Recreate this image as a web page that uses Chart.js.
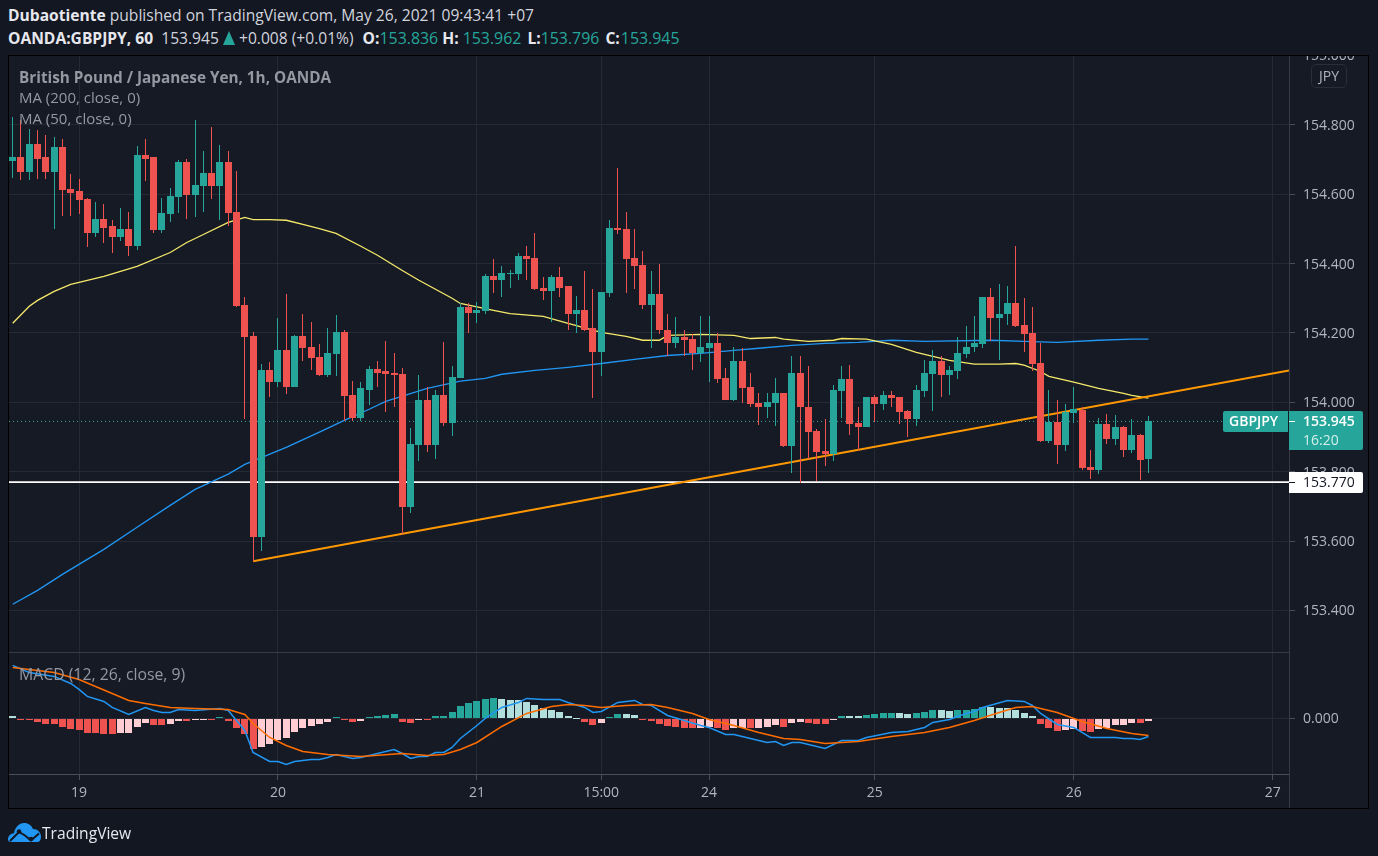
<!DOCTYPE html>
<html><head><meta charset="utf-8"><title>GBPJPY</title>
<script src="https://cdn.jsdelivr.net/npm/chart.js@4/dist/chart.umd.min.js"></script>
<style>
html,body{margin:0;padding:0;background:#131722;width:1378px;height:856px;overflow:hidden}
body{font-family:"Open Sans",sans-serif;position:relative}
canvas{position:absolute;left:0;top:0}
.t{position:absolute;white-space:pre;line-height:20px;font-size:15.6px}
#band{position:absolute;left:0;top:0;width:1378px;height:55px;background:#131722}
.h{color:#d1d4dc}.h b{font-weight:700;color:#e6e8ee}.h i{font-style:normal;color:#26a69a;font-size:15.9px}
.l{color:#9598a1;font-size:15px}
#up{display:inline-block;width:0;height:0;border-left:6.5px solid transparent;border-right:6.500px solid transparent;border-bottom:14px solid #26a69a;vertical-align:-1px}
#jpy{position:absolute;left:1311px;top:64px;width:34px;height:22px;border:1px solid #2a2e39;border-radius:5px;color:#b2b5be;font-size:14px;line-height:22px;text-align:center}
#tv{position:absolute;left:8px;top:822px}
</style></head><body>
<canvas id="c" width="1378" height="856"></canvas>
<div id="band"></div>
<div class="t h" style="left:8px;top:5px"><b>Dubaotiente</b> published on TradingView.com, May 26, 2021 09:43:41 +07</div>
<div class="t h" style="left:8px;top:28px"><b>OANDA:GBPJPY, 60</b>  153.945 <span id="up"></span> +0.008 (+0.01%) <b style="margin-left:5px">O:</b><i>153.836</i> <b style="margin-right:4px">H:</b><i>153.962</i> <b style="margin-left:2px">L:</b><i>153.796</i> <b style="margin-left:2px;margin-right:1px">C:</b><i>153.945</i></div>
<div class="t l" style="left:19px;top:67px;font-weight:700;font-size:15.3px">British Pound / Japanese Yen, 1h, OANDA</div>
<div class="t l" style="left:19px;top:87px">MA (200, close, 0)</div>
<div class="t l" style="left:19px;top:108px">MA (50, close, 0)</div>
<div class="t l" style="left:19px;top:664px;font-size:15.8px">MACD (12, 26, close, 9)</div>
<div id="jpy">JPY</div>
<svg id="tv" width="34" height="20" viewBox="0 0 34 20"><path fill="#2196f3" d="M0 17.500C0 14 2.500 11.500 6 11.200 7 5.500 11 1 16 1c4.500 0 7.500 2.500 9 6 4.500 0 8 3.500 8 8 0 3-1.500 5-4 5H3c-2 0-3-1-3-2.500z"/><path fill="none" stroke="#131722" stroke-width="2" d="M2 19l9-9 6 3.500 6 5 8-7"/><circle cx="11" cy="9.500" r="2.300" fill="#131722"/><circle cx="23" cy="17" r="2.300" fill="#131722"/></svg>
<div class="t" style="left:42px;top:823px;color:#e6e8ee;font-size:15.6px">TradingView</div>
<script>
const xMin=-0.446, xMax=153.96;
const xTickAt=[8,32,56,71,84,104,128,152];
const xTickText=['19','20','21','15:00','24','25','26','27'];
const priceTicks=[155,154.8,154.6,154.4,154.2,154,153.8,153.6,153.4];
const macdTicks=[0];
const lastPrice=153.945, hLevel=153.770;

const opens=[154.697,154.706,154.663,154.744,154.706,154.663,154.735,154.614,154.608,154.585,154.487,154.530,154.507,154.478,154.501,154.452,154.712,154.706,154.496,154.542,154.591,154.692,154.597,154.625,154.660,154.625,154.692,154.548,154.280,154.190,153.611,154.092,154.058,154.150,154.043,154.190,154.159,154.130,154.078,154.138,154.202,154.020,153.954,154.037,154.095,154.089,154.084,154.081,153.697,153.876,154.006,153.876,154.020,153.939,154.069,154.274,154.259,154.262,154.363,154.352,154.369,154.369,154.421,154.415,154.329,154.320,154.360,154.334,154.254,154.265,154.213,154.144,154.314,154.504,154.499,154.415,154.395,154.280,154.311,154.210,154.170,154.187,154.182,154.141,154.156,154.170,154.069,154.006,154.118,154.043,153.997,153.986,153.997,154.026,153.873,154.084,153.988,153.916,153.859,153.850,154.032,154.066,153.939,153.928,154.014,153.994,154.020,154.014,153.974,153.951,154.032,154.081,154.118,154.078,154.089,154.138,154.159,154.167,154.303,154.242,154.254,154.285,154.222,154.199,154.112,153.888,153.942,153.876,153.968,153.977,153.813,153.804,153.937,153.893,153.928,153.862,153.905,153.836];
const highs=[154.824,154.813,154.787,154.784,154.772,154.764,154.758,154.657,154.643,154.588,154.579,154.571,154.525,154.559,154.550,154.738,154.758,154.706,154.588,154.617,154.700,154.703,154.813,154.726,154.793,154.741,154.726,154.666,154.305,154.202,154.110,154.115,154.242,154.311,154.193,154.254,154.231,154.167,154.213,154.251,154.208,154.061,154.058,154.104,154.118,154.176,154.141,154.098,153.925,154.078,154.043,154.035,154.173,154.104,154.285,154.285,154.288,154.369,154.412,154.392,154.383,154.432,154.452,154.487,154.360,154.366,154.389,154.334,154.308,154.378,154.326,154.317,154.527,154.677,154.550,154.499,154.435,154.378,154.398,154.256,154.245,154.208,154.196,154.248,154.248,154.199,154.098,154.159,154.156,154.084,154.026,154.026,154.069,154.026,154.133,154.133,154.104,153.922,153.951,154.049,154.104,154.107,153.986,154.014,154.020,154.032,154.032,154.014,153.977,154.049,154.121,154.150,154.133,154.104,154.187,154.219,154.248,154.305,154.329,154.340,154.334,154.450,154.300,154.274,154.170,154.035,154.006,153.994,154.043,153.988,153.862,153.954,153.965,153.963,153.931,153.951,153.908,153.962];
const lows=[154.648,154.640,154.640,154.643,154.643,154.499,154.536,154.536,154.542,154.447,154.476,154.458,154.432,154.464,154.421,154.438,154.637,154.487,154.487,154.519,154.545,154.530,154.533,154.548,154.585,154.527,154.507,154.274,153.951,153.542,153.571,154.014,154.043,154.023,154.043,154.118,154.092,154.075,154.072,154.075,153.945,153.945,153.945,153.991,154.043,153.971,153.986,153.620,153.680,153.830,153.856,153.836,153.931,153.902,154.069,154.199,154.228,154.256,154.314,154.305,154.331,154.354,154.354,154.323,154.294,154.233,154.305,154.208,154.199,154.205,154.012,154.075,154.303,154.484,154.314,154.326,154.268,154.156,154.196,154.133,154.156,154.133,154.092,154.115,154.058,154.055,154.006,154.003,153.997,153.986,153.934,153.954,153.931,153.870,153.795,153.767,153.836,153.772,153.816,153.830,153.954,153.905,153.862,153.928,153.942,153.977,153.986,153.937,153.899,153.931,154.014,153.974,154.014,154.020,154.066,154.127,154.144,154.156,154.176,154.121,154.222,154.216,154.144,154.089,153.885,153.882,153.821,153.859,153.939,153.804,153.778,153.792,153.879,153.876,153.841,153.853,153.775,153.796];
const closes=[154.706,154.663,154.744,154.703,154.663,154.735,154.611,154.605,154.582,154.487,154.530,154.504,154.478,154.501,154.452,154.712,154.703,154.496,154.545,154.594,154.692,154.597,154.628,154.660,154.625,154.692,154.545,154.277,154.187,153.611,154.092,154.058,154.150,154.043,154.190,154.156,154.127,154.078,154.141,154.202,154.017,153.954,154.040,154.095,154.086,154.081,154.078,153.697,153.879,154.006,153.876,154.020,153.939,154.072,154.274,154.259,154.265,154.363,154.352,154.372,154.372,154.421,154.412,154.326,154.320,154.360,154.331,154.254,154.265,154.210,154.144,154.317,154.504,154.496,154.412,154.392,154.280,154.311,154.208,154.170,154.187,154.179,154.141,154.159,154.170,154.066,154.006,154.118,154.040,153.994,153.986,154.000,154.026,153.873,154.084,153.986,153.914,153.856,153.850,154.035,154.066,153.937,153.928,154.014,153.994,154.020,154.012,153.971,153.951,154.035,154.084,154.118,154.078,154.092,154.141,154.161,154.170,154.303,154.242,154.256,154.285,154.219,154.196,154.110,153.888,153.942,153.876,153.971,153.980,153.810,153.804,153.937,153.893,153.928,153.862,153.905,153.833,153.945];

const ma50At=[0,2,3,5,7,11,15,19,21,23,26,28,29,31,33,35,37,39,42,44,47,49,53,54,58,60,64,67,71,74,76,78,79,83,87,89,92,93,96,99,100,103,106,109,113,116,119,121,122,124,125,128,131,134,135,137];
const ma50Val=[154.228,154.277,154.294,154.320,154.340,154.363,154.392,154.432,154.461,154.484,154.519,154.533,154.527,154.527,154.525,154.513,154.501,154.487,154.450,154.424,154.380,154.352,154.300,154.285,154.265,154.256,154.248,154.228,154.202,154.190,154.179,154.179,154.193,154.196,154.193,154.184,154.187,154.182,154.176,154.179,154.184,154.182,154.167,154.144,154.121,154.110,154.110,154.112,154.107,154.089,154.075,154.058,154.040,154.026,154.020,154.012];
const ma200At=[0,3,6,11,15,19,22,26,28,33,37,40,43,45,50,54,57,59,63,67,71,75,79,83,87,90,94,98,102,106,110,118,122,126,131,135,137];
const ma200Val=[153.418,153.458,153.504,153.576,153.640,153.703,153.749,153.793,153.821,153.870,153.914,153.948,153.980,154.003,154.040,154.061,154.069,154.081,154.092,154.101,154.112,154.124,154.135,154.141,154.150,154.156,154.164,154.170,154.173,154.179,154.176,154.179,154.176,154.173,154.179,154.182,154.182];
const trendAt=[29,xMax], trendVal=[153.542,154.092];

const macdAt=[0,2,5,7,8,9,11,12,14,16,17,18,19,20,22,25,26,27,28,29,31,32,33,34,36,37,38,39,41,42,44,46,47,48,49,50,51,52,53,54,56,57,59,61,62,64,66,67,69,70,71,73,75,76,77,79,81,83,84,86,87,89,91,92,93,94,95,98,100,102,103,106,108,110,111,113,115,116,117,120,122,123,124,126,128,130,133,134,135,136,137];
const macdVal=[.106,.092,.084,.070,.058,.044,.034,.022,.008,.022,.016,.012,.012,.018,.016,.020,.016,-.004,-.024,-.068,-.086,-.086,-.092,-.086,-.082,-.082,-.078,-.072,-.080,-.078,-.070,-.062,-.070,-.080,-.076,-.076,-.068,-.068,-.058,-.040,-.014,0,.022,.032,.040,.038,.038,.032,.022,.012,.014,.032,.036,.028,.026,.006,-.004,-.014,-.018,-.032,-.032,-.040,-.048,-.046,-.054,-.048,-.048,-.060,-.044,-.044,-.038,-.028,-.026,-.018,-.008,-.002,.010,.014,.022,.036,.034,.026,.010,-.012,-.018,-.038,-.038,-.040,-.040,-.042,-.036];
const signalAt=[0,2,5,8,12,14,16,19,22,26,28,29,31,33,35,38,42,47,50,52,54,56,59,62,65,67,69,71,74,77,79,82,84,87,90,93,95,98,102,106,110,113,116,119,121,123,126,129,132,135,137];
const signalVal=[.102,.098,.092,.078,.050,.036,.030,.022,.020,.018,.008,-.010,-.038,-.054,-.066,-.072,-.076,-.070,-.074,-.072,-.062,-.048,-.016,.010,.024,.028,.026,.022,.026,.028,.022,.010,-.002,-.014,-.028,-.040,-.042,-.050,-.046,-.036,-.028,-.018,-.004,.012,.022,.024,.012,-.006,-.020,-.030,-.034];
const histVal=[.004,-.004,-.004,-.008,-.012,-.012,-.018,-.022,-.024,-.030,-.030,-.032,-.032,-.030,-.030,-.018,-.010,-.014,-.014,-.012,-.006,-.006,-.004,-.002,-.002,.002,-.006,-.020,-.032,-.062,-.058,-.052,-.044,-.040,-.028,-.020,-.016,-.012,-.008,.002,-.004,-.008,-.006,.002,.004,.006,.008,-.008,-.010,-.004,-.004,.004,.004,.012,.024,.030,.034,.038,.040,.038,.036,.036,.032,.026,.020,.016,.012,.004,.001,-.008,-.014,-.010,.002,.008,.008,.006,-.002,-.006,-.012,-.016,-.018,-.020,-.020,-.020,-.018,-.020,-.024,-.020,-.020,-.020,-.020,-.018,-.014,-.018,-.010,-.008,-.010,-.012,-.012,-.004,.004,.004,.004,.006,.008,.010,.010,.010,.008,.010,.012,.016,.016,.014,.016,.016,.018,.022,.022,.020,.020,.016,.010,.004,-.012,-.020,-.026,-.024,-.022,-.026,-.028,-.022,-.020,-.014,-.014,-.010,-.010,-.006];
const histTone=("t"+"RRRRRRRRRRRR"+"rrrr"+"RR"+"rr"+"R"+"rr"+"R"+"T"+"RRRR"+"rrrrrrrrr"+"T"+"RR"+"r"+"TTTT"+"RR"+"r"+"R"+"TTTTTTTT"+"tttttttttt"+"RR"+"r"+"TT"+"tt"+"RRRRRRR"+"rr"+"RR"+"rr"+"R"+"rrr"+"R"+"rr"+"RRR"+"r"+"T"+"tt"+"TTTT"+"tt"+"TTT"+"tt"+"TTTT"+"tttttt"+"RRR"+"rr"+"RR"+"rrrrr"+"R"+"r").split('');

const UP='#26a69a', DOWN='#ef5350';
const toneColor={T:'#26a69a',t:'#b2dfdb',R:'#ef5350',r:'#ffcdd2'};
const GRID='#252933', AXIS='#4a4e59', TXT='#b2b5be';
const FONT='"Open Sans",sans-serif';

const candleColor=opens.map((o,i)=>closes[i]>=o?UP:DOWN);
const pts=(a,v)=>a.map((x,i)=>({x,y:v[i]}));
const lineDs=(data,color,width,yAxisID,order,extra)=>Object.assign({type:'line',data,borderColor:color,borderWidth:width,pointRadius:0,tension:0,yAxisID,order,xAxisID:'x'},extra||{});

const snap={id:'snap',afterDatasetsUpdate(chart){
  chart.data.datasets.forEach((d,i)=>{
    const m=chart.getDatasetMeta(i);
    if(m.type!=='bar')return;
    m.data.forEach(b=>{
      b.x=Math.floor(b.x)+0.5;
      b.y=Math.round(b.y);b.base=Math.round(b.base);
      if(b.y===b.base)b.base+=1;
      b.height=b.base-b.y;
    });
  });
}};
const frame={id:'frame',
 beforeDraw(chart){
  const g=chart.ctx;g.save();g.fillStyle='#161a25';g.fillRect(9,56,1360,753);g.restore();
  [chart.scales.y,chart.scales.yMacd].forEach(s=>s.getLabelItems(chart.chartArea).forEach(it=>{it.options.translation[1]+=1;}));
  chart.scales.x.getLabelItems(chart.chartArea).forEach(it=>{it.options.translation[1]-=1;});
 },
 afterDraw(chart){
  const g=chart.ctx,a=chart.chartArea,y=chart.scales.y;
  g.save();
  g.strokeStyle='#363a45';g.lineWidth=1;
  g.beginPath();g.moveTo(a.left,652.5);g.lineTo(a.right,652.5);g.moveTo(a.right+.5,56);g.lineTo(a.right+.5,809);g.stroke();
  const ly=Math.round(y.getPixelForValue(lastPrice)), wy=Math.round(y.getPixelForValue(hLevel));
  g.font='14px '+FONT;g.textBaseline='middle';g.textAlign='left';
  g.fillStyle=UP;
  g.beginPath();g.roundRect(a.right-66,ly-10,65,21,[2,0,0,2]);g.fill();
  g.beginPath();g.roundRect(a.right,ly-10,74,39,[0,2,2,0]);g.fill();
  g.fillStyle='#fff';g.font='600 14px '+FONT;g.fillText('GBPJPY',a.right-60,ly+1);
  g.fillRect(a.right,ly,6,1);
  g.fillText(lastPrice.toFixed(3),a.right+14,ly+1);
  g.font='14px '+FONT;g.fillStyle='#d4eeec';g.fillText('16:20',a.right+14,ly+20);
  g.fillStyle='#fff';g.beginPath();g.roundRect(a.right,wy-10,74,21,[0,2,2,0]);g.fill();
  g.fillStyle='#131722';g.fillRect(a.right,wy,6,1);g.fillText(hLevel.toFixed(3),a.right+14,wy+1);
  g.strokeStyle='#000';g.lineWidth=1;g.strokeRect(8.5,55.5,1360,753);
  g.restore();
 }};

new Chart(document.getElementById('c'),{
 type:'bar',
 data:{datasets:[
  {label:'wick',data:lows.map((l,i)=>({x:i,y:[l,highs[i]]})),backgroundColor:candleColor,barThickness:1,grouped:false,inflateAmount:0,yAxisID:'y',xAxisID:'x',order:2},
  {label:'body',data:opens.map((o,i)=>({x:i,y:[o,closes[i]]})),backgroundColor:candleColor,barThickness:7,grouped:false,inflateAmount:0,yAxisID:'y',xAxisID:'x',order:1},
  {label:'hist',data:histVal.map((v,i)=>({x:i,y:v})),backgroundColor:histTone.map(t=>toneColor[t]),barThickness:7,grouped:false,inflateAmount:0,yAxisID:'yMacd',xAxisID:'x',order:9},
  lineDs(pts([xMin,xMax],[hLevel,hLevel]),'#ffffff',1.6,'y',8),
  lineDs(pts([xMin,xMax],[lastPrice,lastPrice]),UP,1,'y',8,{borderDash:[1,3]}),
  lineDs(pts(ma50At,ma50Val),'#f5e86a',1.3,'y',6),
  lineDs(pts(ma200At,ma200Val),'#2196f3',1.3,'y',6),
  lineDs(pts(trendAt,trendVal),'#ff9800',2,'y',5),
  lineDs(pts(macdAt,macdVal),'#2196f3',1.5,'yMacd',4),
  lineDs(pts(signalAt,signalVal),'#ff6d00',1.5,'yMacd',3)
 ]},
 options:{
  responsive:false,animation:false,devicePixelRatio:1,events:[],
  layout:{padding:{left:9,top:55.5,right:9,bottom:47}},
  plugins:{legend:{display:false},tooltip:{enabled:false}},
  scales:{
   x:{type:'linear',position:'bottom',offset:false,min:xMin,max:xMax,bounds:'data',
      grid:{color:GRID,tickColor:AXIS,tickLength:6,offset:false},
      border:{color:AXIS},
      afterBuildTicks(s){s.ticks=xTickAt.map(v=>({value:v}));},
      afterFit(s){s.height=35;s.paddingLeft=0;s.paddingRight=0;},
      ticks:{autoSkip:false,maxRotation:0,minRotation:0,color:TXT,font:{family:FONT,size:14},padding:6,
        callback:(v)=>xTickText[xTickAt.indexOf(v)]}},
   y:{type:'linear',position:'right',stack:'panes',stackWeight:596.5,min:153.279,max:155,bounds:'data',
      grid:{color:GRID,tickColor:AXIS,tickLength:6},border:{color:AXIS},
      afterBuildTicks(s){s.ticks=priceTicks.map(v=>({value:v}));},
      afterFit(s){s.width=80;s.paddingTop=0;s.paddingBottom=0;},
      ticks:{autoSkip:false,color:TXT,font:{family:FONT,size:14},padding:8,crossAlign:'near',callback:v=>v.toFixed(3)}},
   yMacd:{type:'linear',position:'right',stack:'panes',stackWeight:121.5,min:-.111,max:.132,bounds:'data',
      grid:{color:GRID,tickColor:AXIS,tickLength:6},border:{color:AXIS},
      afterBuildTicks(s){s.ticks=macdTicks.map(v=>({value:v}));},
      afterFit(s){s.width=80;s.paddingTop=0;s.paddingBottom=0;},
      ticks:{autoSkip:false,color:TXT,font:{family:FONT,size:14},padding:8,crossAlign:'near',callback:v=>v.toFixed(3)}}
  }
 },
 plugins:[snap,frame]
});
</script></body></html>
